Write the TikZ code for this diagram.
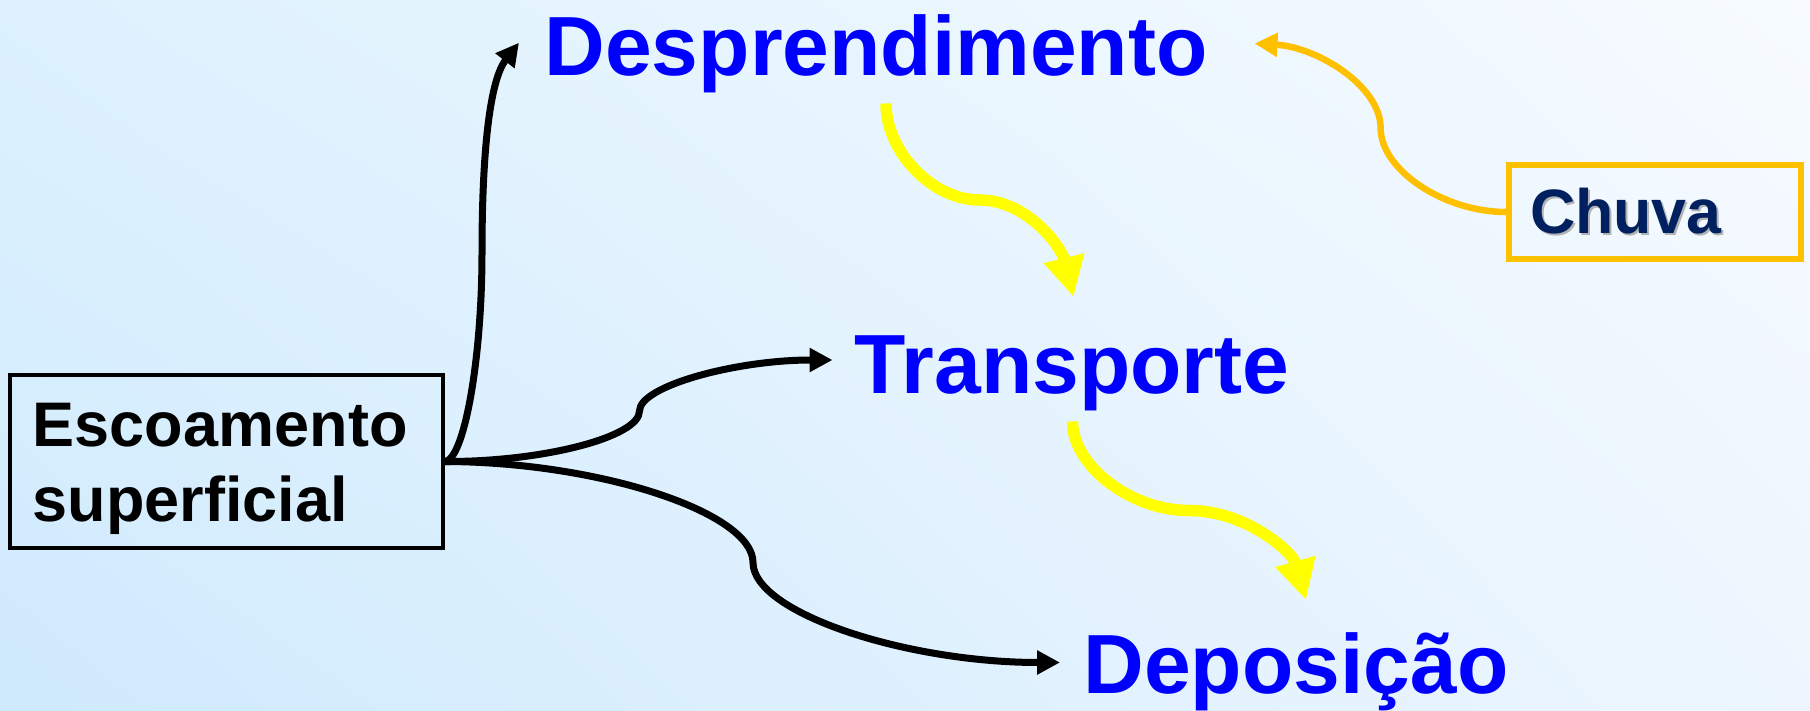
\documentclass[tikz,border=0pt]{standalone}
\usepackage{fontspec}
\setmainfont{Liberation Sans}
\usetikzlibrary{arrows.meta,shadings}
\definecolor{bgTL}{RGB}{221,241,254}
\definecolor{bgBL}{RGB}{207,234,253}
\definecolor{bgTR}{RGB}{247,251,255}
\definecolor{bgBR}{RGB}{237,246,254}
\definecolor{wordblue}{RGB}{0,0,255}
\definecolor{navy}{RGB}{0,32,96}
\definecolor{orng}{RGB}{255,192,0}
\definecolor{yllw}{RGB}{255,255,0}
\tikzset{
  word/.style={font=\fontsize{84pt}{84pt}\selectfont\bfseries, text=wordblue, inner sep=0pt, anchor=base},
  blk/.style={draw=black, line width=7pt, -{Triangle[length=23pt,width=23pt]}},
  ylw/.style={draw=yllw, line width=11.5pt, -{Triangle[length=40pt,width=39pt]}},
  org/.style={draw=orng, line width=6.5pt, -{Triangle[length=23pt,width=23pt]}},
}
\begin{document}
\begin{tikzpicture}[x=1pt,y=-1pt]
\useasboundingbox (0,0) rectangle (1810,711);
\shade[upper left=bgTL, lower left=bgBL, upper right=bgTR, lower right=bgBR] (0,0) rectangle (1810,711);

% nodes
\node[word] (desp) at (876,76) {Desprendimento};
\node[word] (trans) at (1072,393) {Transporte};
\node[word] (depo) at (1296,693) {Deposição};

\node[draw=black, line width=4pt, minimum width=433pt, minimum height=173pt,
      inner xsep=22.8pt, text width=387pt, align=left,
      font=\fontsize{63pt}{75pt}\selectfont\bfseries] (esc) at (226.4,461.5)
      {\rule{0pt}{58.6pt}Escoamento\\superficial};

\node[draw=orng, line width=6pt, minimum width=292pt, minimum height=94pt,
      inner xsep=21pt, text width=250pt, align=left,
      font=\fontsize{62.7pt}{62.7pt}\selectfont\bfseries, text=navy] (chuva) at (1655,212)
      {\makebox[0pt][l]{\kern2pt\raisebox{-2pt}{\color{black!30}Chuva}}Chuva};

% coordinates
\coordinate (m1) at (482,253);
\coordinate (t1) at (519,42.7);
\coordinate (m2) at (639.5,411);
\coordinate (t2) at (832.5,360);
\coordinate (m3) at (753,562.5);
\coordinate (t3) at (1060,662.5);

\coordinate (y1s) at (886,103.5);
\coordinate (ym1) at (979.5,200);
\coordinate (y1e) at (1073.5,297);
\coordinate (y2s) at (1072.5,421.5);
\coordinate (ym2) at (1189,510.5);
\coordinate (y2e) at (1306,600);

\coordinate (om) at (1380.6,128);
\coordinate (oe) at (1254.5,43.5);

% black connectors
\draw[blk] (esc.east) .. controls (464,460) and (482,360) .. (m1)
                      .. controls (482,150) and (490,80) .. (t1);
\draw[blk] (esc.east) .. controls (543,462) and (639.5,437) .. (m2)
                      .. controls (639.5,386) and (736,360) .. (t2);
\draw[blk] (esc.east) .. controls (600,462) and (753,512.7) .. (m3)
                      .. controls (753,612.7) and (906,662.5) .. (t3);

% yellow connectors
\draw[ylw] (y1s) .. controls (886,152) and (932.5,200) .. (ym1)
                 .. controls (1026.5,200) and (1061,246) .. (y1e);
\draw[ylw] (y2s) .. controls (1072.5,466) and (1131,510.5) .. (ym2)
                 .. controls (1247,510.5) and (1293,553) .. (y2e);

% orange connector
\draw[org] (chuva.west) .. controls (1444,212) and (1380.6,170) .. (om)
                        .. controls (1380.6,86) and (1317,47) .. (oe);
\end{tikzpicture}
\end{document}
